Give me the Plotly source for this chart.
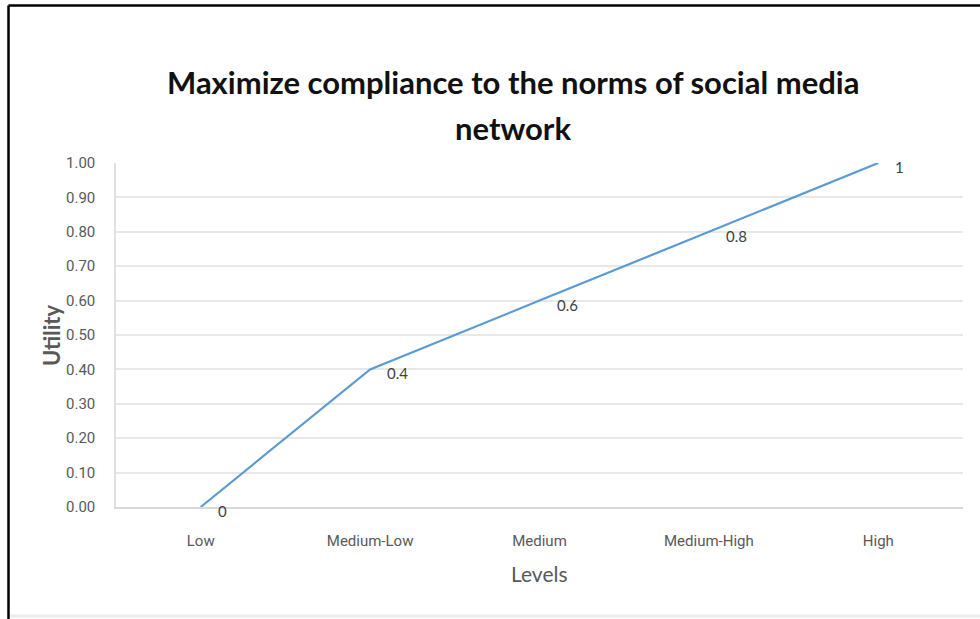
import plotly.graph_objects as go

# Utility curve over compliance levels
levels = ["Low", "Medium-Low", "Medium", "Medium-High", "High"]
utility = [0, 0.4, 0.6, 0.8, 1]
y_ticks = [0.0, 0.1, 0.2, 0.3, 0.4, 0.5, 0.6, 0.7, 0.8, 0.9, 1.0]
title_lines = ["Maximize compliance to the norms of social media", "network"]

W, H = 980, 619
ML, MR, MT, MB = 116, 17, 163, 112
PW, PH = W - ML - MR, H - MT - MB


def px_x(p):
    return (p - ML) / PW


def px_y(p):
    return (H - MB - p) / PH


tick_font = dict(family="Liberation Sans Narrow, Roboto, sans-serif", size=15, color="#595959")

fig = go.Figure()
fig.add_trace(go.Scatter(
    x=levels, y=utility, mode="lines",
    line=dict(color="#5b9bd5", width=2.2),
    hoverinfo="x+y", showlegend=False,
))

# value labels next to each point
for lv, u in zip(levels, utility):
    fig.add_annotation(
        x=lv, y=u, text=f"{u:g}", showarrow=False,
        xanchor="left", yanchor="middle", xshift=15, yshift=-4,
        font=dict(family="Lato, sans-serif", size=15, color="#404040"),
    )

# chart title, two lines
for line_text, py in zip(title_lines, [82, 128]):
    fig.add_annotation(
        xref="paper", yref="paper", x=px_x(513), y=px_y(py),
        text=f"<b>{line_text}</b>", showarrow=False,
        xanchor="center", yanchor="middle",
        font=dict(family="Lato, sans-serif", size=31, color="#111111"),
    )

# axis titles
fig.add_annotation(
    xref="paper", yref="paper", x=px_x(51), y=px_y(335), text="<b>Utility</b>",
    textangle=-90, showarrow=False, xanchor="center", yanchor="middle",
    font=dict(family="Lato, sans-serif", size=22, color="#595959"),
)
fig.add_annotation(
    xref="paper", yref="paper", x=px_x(539), y=px_y(573), text="Levels",
    showarrow=False, xanchor="center", yanchor="middle",
    font=dict(family="Lato, sans-serif", size=21, color="#595959"),
)

# frame around the chart
fig.add_shape(type="line", xref="paper", yref="paper",
              x0=px_x(8.5), x1=px_x(W + 5), y0=px_y(5.5), y1=px_y(5.5),
              line=dict(color="black", width=2.5))
fig.add_shape(type="line", xref="paper", yref="paper",
              x0=px_x(8.5), x1=px_x(8.5), y0=px_y(5.5), y1=px_y(H + 5),
              line=dict(color="black", width=2.5))
fig.add_shape(type="line", xref="paper", yref="paper",
              x0=px_x(10), x1=px_x(W + 5), y0=px_y(616), y1=px_y(616),
              line=dict(color="#ececec", width=3))

fig.update_layout(
    width=W, height=H,
    margin=dict(l=ML, r=MR, t=MT, b=MB),
    paper_bgcolor="white", plot_bgcolor="white",
    xaxis=dict(
        type="category", range=[-0.5, 4.5],
        showgrid=False, showline=True, linecolor="#d9d9d9", linewidth=2,
        ticks="", ticklabelstandoff=19, tickfont=tick_font,
        fixedrange=True,
    ),
    yaxis=dict(
        range=[0, 1], tickvals=y_ticks, tickformat=".2f",
        showgrid=True, gridcolor="#e8e8e8", gridwidth=2,
        showline=True, linecolor="#e0e0e0", linewidth=1.5,
        zeroline=False, ticks="", ticklabelstandoff=16, tickfont=tick_font,
        fixedrange=True,
    ),
)

fig.write_html("out.html")
